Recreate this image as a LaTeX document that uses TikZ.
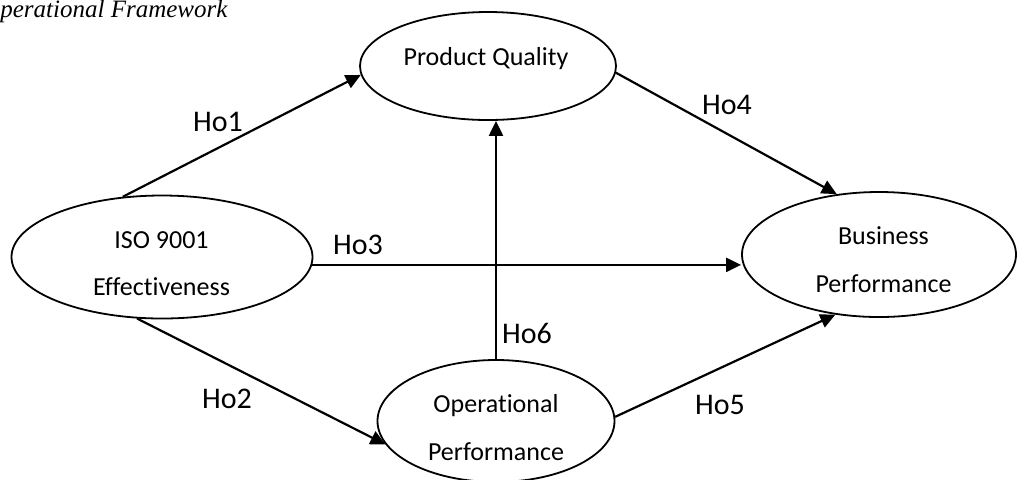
\documentclass[tikz,border=0pt]{standalone}
\usepackage{fontspec}
\setmainfont{Carlito}[Ligatures={NoCommon}]
\newfontfamily\capfont{Liberation Serif}
\usetikzlibrary{arrows.meta,shapes.geometric}

\begin{document}
\begin{tikzpicture}[
  x=0.5pt, y=-0.5pt,
  >={Triangle[length=7.5pt,width=7pt]},
  construct/.style={draw, ellipse, line width=0.9pt, inner sep=0pt},
  ctext/.style={anchor=base, inner sep=0pt, font=\fontsize{13}{15}\selectfont},
  hyp/.style={inner sep=0pt, font=\fontsize{15}{18}\selectfont},
  link/.style={->, line width=1.1pt},
]
\useasboundingbox (0,0) rectangle (1018,479);
% caption in the top left corner
\node[anchor=base west, inner sep=0pt, font=\capfont\itshape\fontsize{12.5}{15}\selectfont] (cap) at (0,17) {perational Framework};

% constructs
\node[construct, minimum width=128pt, minimum height=54pt] (pq) at (488,66) {};
\node[construct, minimum width=150.5pt, minimum height=61.5pt] (iso) at (162,257) {};
\node[construct, minimum width=118.5pt, minimum height=61pt] (op) at (496,421) {};
\node[construct, minimum width=137pt, minimum height=62.5pt] (bp) at (879,254.5) {};

\node[ctext] (pqA) at (486,65) {Product Quality};
\node[ctext] (isoA) at (161.5,248) {ISO 9001};
\node[ctext] (isoB) at (161.5,295) {Effectiveness};
\node[ctext] (opA) at (496,412) {Operational};
\node[ctext] (opB) at (496,460) {Performance};
\node[ctext] (bpA) at (883.5,244) {Business};
\node[ctext] (bpB) at (883.5,292) {Performance};

% hypothesised paths
\draw[link] (iso.123) -- (pq.184);
\draw[link] (pq.-3) -- (bp.125);
\draw[link] (iso.-3) -- (iso.-3 -| bp.west);
\draw[link] (iso.248) -- (op.192);
\draw[link] (op.2) -- (bp.234);
\draw[link] (op.north) -- (op.north |- pq.south);

\node[hyp] (ho1) at (218,122) {Ho1};
\node[hyp] (ho2) at (227,399) {Ho2};
\node[hyp] (ho3) at (358,245) {Ho3};
\node[hyp] (ho4) at (727,105) {Ho4};
\node[hyp] (ho5) at (720,405) {Ho5};
\node[hyp] (ho6) at (527,333) {Ho6};
\end{tikzpicture}
\end{document}
